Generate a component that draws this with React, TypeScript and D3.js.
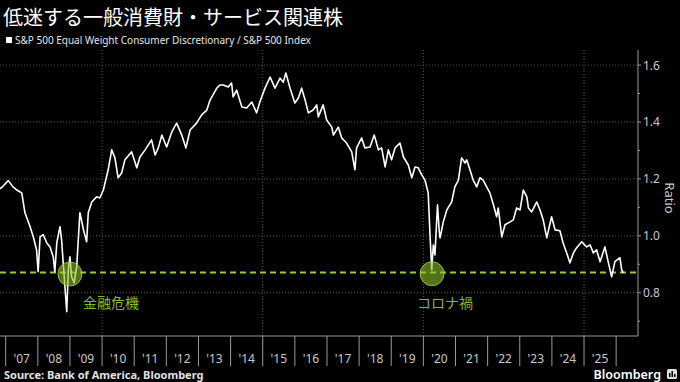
import React from 'react';
import * as d3 from 'd3';

// Decimal-year dates and the ratio S&P 500 Equal Weight Consumer Discretionary / S&P 500
const dates = [
  2006.82, 2006.92, 2007.08, 2007.23, 2007.35, 2007.45, 2007.50, 2007.60, 2007.76, 2007.86,
  2007.96, 2008.01, 2008.07, 2008.17, 2008.28, 2008.38, 2008.48, 2008.53, 2008.59, 2008.69,
  2008.74, 2008.79, 2008.90, 2008.95, 2009.00, 2009.05, 2009.13, 2009.21, 2009.31, 2009.37,
  2009.42, 2009.52, 2009.57, 2009.68, 2009.83, 2009.93, 2010.04, 2010.19, 2010.30, 2010.40,
  2010.50, 2010.61, 2010.71, 2010.92, 2011.08, 2011.18, 2011.34, 2011.54, 2011.65, 2011.75,
  2011.86, 2012.01, 2012.17, 2012.32, 2012.48, 2012.61, 2012.74, 2012.94, 2013.10, 2013.26,
  2013.36, 2013.57, 2013.67, 2013.77, 2013.93, 2014.03, 2014.08, 2014.19, 2014.35, 2014.50,
  2014.66, 2014.81, 2014.91, 2015.07, 2015.23, 2015.38, 2015.54, 2015.64, 2015.72, 2015.85,
  2016.00, 2016.11, 2016.21, 2016.32, 2016.42, 2016.57, 2016.68, 2016.73, 2016.88, 2016.99,
  2017.15, 2017.20, 2017.35, 2017.46, 2017.61, 2017.77, 2017.87, 2017.92, 2018.08, 2018.18,
  2018.34, 2018.47, 2018.60, 2018.70, 2018.81, 2018.91, 2019.01, 2019.12, 2019.27, 2019.38,
  2019.53, 2019.64, 2019.74, 2019.84, 2019.95, 2020.05, 2020.15, 2020.21, 2020.26, 2020.31,
  2020.36, 2020.44, 2020.49, 2020.52, 2020.62, 2020.73, 2020.88, 2020.98, 2021.09, 2021.19,
  2021.30, 2021.35, 2021.45, 2021.55, 2021.66, 2021.76, 2021.86, 2021.97, 2022.07, 2022.18,
  2022.28, 2022.33, 2022.44, 2022.54, 2022.70, 2022.80, 2022.90, 2023.01, 2023.11, 2023.22,
  2023.27, 2023.37, 2023.53, 2023.63, 2023.73, 2023.84, 2023.99, 2024.10, 2024.25, 2024.35,
  2024.46, 2024.56, 2024.67, 2024.77, 2024.93, 2025.08, 2025.19, 2025.29, 2025.39, 2025.50,
  2025.65, 2025.76, 2025.86, 2025.96, 2026.12, 2026.17, 2026.22,
];
const ratio = [
  1.165, 1.175, 1.194, 1.172, 1.161, 1.154, 1.151, 1.081, 1.032, 0.996,
  0.951, 0.874, 0.996, 1.004, 0.975, 0.961, 0.926, 0.874, 0.975, 1.032,
  0.986, 0.905, 0.733, 0.881, 0.926, 0.856, 0.835, 0.891, 1.081, 1.049,
  1.021, 0.979, 1.081, 1.119, 1.137, 1.133, 1.161, 1.232, 1.302, 1.274,
  1.204, 1.221, 1.267, 1.295, 1.239, 1.277, 1.302, 1.337, 1.284, 1.309,
  1.354, 1.312, 1.365, 1.396, 1.354, 1.309, 1.372, 1.396, 1.425, 1.442,
  1.477, 1.519, 1.530, 1.530, 1.523, 1.537, 1.488, 1.512, 1.453, 1.449,
  1.470, 1.432, 1.470, 1.519, 1.558, 1.519, 1.554, 1.540, 1.572, 1.519,
  1.467, 1.484, 1.519, 1.477, 1.432, 1.442, 1.460, 1.418, 1.460, 1.407,
  1.382, 1.354, 1.382, 1.344, 1.326, 1.295, 1.232, 1.309, 1.344, 1.309,
  1.312, 1.354, 1.302, 1.309, 1.242, 1.302, 1.267, 1.309, 1.326, 1.277,
  1.249, 1.204, 1.242, 1.239, 1.214, 1.196, 1.151, 0.996, 0.881, 0.968,
  0.933, 1.109, 1.021, 0.993, 1.049, 1.091, 1.119, 1.172, 1.196, 1.274,
  1.256, 1.267, 1.232, 1.196, 1.172, 1.204, 1.196, 1.172, 1.151, 1.109,
  1.067, 1.098, 0.996, 1.039, 1.049, 1.056, 1.098, 1.091, 1.161, 1.137,
  1.098, 1.084, 1.119, 1.091, 1.056, 0.993, 1.067, 1.021, 1.018, 0.975,
  0.940, 0.905, 0.940, 0.958, 0.979, 0.961, 0.968, 0.940, 0.951, 0.909,
  0.961, 0.905, 0.856, 0.909, 0.923, 0.881, 0.870,
];

const yearStarts = d3.range(2007, 2027);
const yearLabels = ["'07", "'08", "'09", "'10", "'11", "'12", "'13", "'14", "'15", "'16",
  "'17", "'18", "'19", "'20", "'21", "'22", "'23", "'24", "'25"];
const gridYears = [2010, 2015, 2020, 2025];
const yTicks = [0.8, 1.0, 1.2, 1.4, 1.6];
const yMinorTicks = [0.7, 0.9, 1.1, 1.3, 1.5];
const threshold = 0.871;
const crisisDates = [2009.0, 2020.27];
const crisisValues = [0.866, 0.867];
const crisisLabels = ['金融危機', 'コロナ禍'];

const W = 680;
const H = 382;
const plotLeft = 0;
const plotRight = 638;
const plotTop = 50;
const plotBottom = 336;

export default function App() {
  const x = d3.scaleLinear().domain([2006.823, 2026.68]).range([plotLeft, plotRight]);
  const y = d3.scaleLinear().domain([0.648, 1.653]).range([plotBottom, plotTop]);
  const points = dates.map((d, i) => [d, ratio[i]] as [number, number]);
  const line = d3.line<[number, number]>().x(d => x(d[0])).y(d => y(d[1]));
  const axisColor = '#9a9a9a';
  const textColor = '#c8c8c8';
  const green = '#9acd32';
  const sans = '"Noto Sans", "DejaVu Sans", sans-serif';
  const labelOffsets = [13, -15];

  return (
    <svg width={W} height={H} style={{ position: 'absolute', left: 0, top: 0, background: '#000' }}>
      <rect x={0} y={0} width={W} height={H} fill="#000" />
      <text x={3} y={25} fill="#fff" fontSize={20} fontFamily='"Noto Sans CJK JP", sans-serif'>
        低迷する一般消費財・サービス関連株
      </text>
      <rect x={6} y={37} width={6} height={6} fill="#fff" />
      <text x={15} y={44} fill="#e6e6e6" fontSize={10} fontFamily={sans}>
        S&amp;P 500 Equal Weight Consumer Discretionary / S&amp;P 500 Index
      </text>

      {/* grid */}
      {yTicks.map(t => (
        <line key={'gy' + t} x1={plotLeft} x2={plotRight} y1={y(t)} y2={y(t)}
          stroke="#555" strokeWidth={1} strokeDasharray="1,2" />
      ))}
      {gridYears.map(g => (
        <line key={'gx' + g} x1={x(g)} x2={x(g)} y1={plotTop} y2={plotBottom}
          stroke="#555" strokeWidth={1} strokeDasharray="1,2" />
      ))}

      {/* threshold */}
      <line x1={plotLeft} x2={plotRight} y1={y(threshold)} y2={y(threshold)}
        stroke={green} strokeWidth={2} strokeDasharray="6,4" />

      {/* series */}
      <path d={line(points) || ''} fill="none" stroke="#fff" strokeWidth={1.6} strokeLinejoin="round" />

      {/* crisis markers */}
      {crisisDates.map((d, i) => (
        <g key={'c' + i}>
          <circle cx={x(d)} cy={y(crisisValues[i])} r={12} fill="rgba(140,190,40,0.6)"
            stroke="rgba(170,215,70,0.8)" strokeWidth={1} />
          <text x={x(d) + labelOffsets[i]} y={308} fill="#86b82f" fontSize={14}
            fontFamily='"Noto Sans CJK JP", sans-serif'>{crisisLabels[i]}</text>
        </g>
      ))}

      {/* right axis */}
      <line x1={plotRight} x2={plotRight} y1={plotTop} y2={plotBottom} stroke={axisColor} strokeWidth={1} />
      {yTicks.map(t => (
        <g key={'yt' + t}>
          <line x1={plotRight} x2={plotRight + 3} y1={y(t)} y2={y(t)} stroke={axisColor} />
          <text x={plotRight + 5} y={y(t) + 4.5} fill={textColor} fontSize={12} fontFamily={sans}>
            {t.toFixed(1)}
          </text>
        </g>
      ))}
      {yMinorTicks.map(t => (
        <line key={'ym' + t} x1={plotRight} x2={plotRight + 2} y1={y(t)} y2={y(t)} stroke={axisColor} />
      ))}
      <text transform={`translate(665, ${(plotTop + plotBottom) / 2 + 5}) rotate(90)`} textAnchor="middle"
        fill={textColor} fontSize={13} fontFamily={sans}>Ratio</text>

      {/* bottom axis */}
      <line x1={plotLeft} x2={plotRight} y1={plotBottom} y2={plotBottom} stroke={axisColor} strokeWidth={1} />
      {yearStarts.map(yr => (
        <line key={'xt' + yr} x1={x(yr)} x2={x(yr)} y1={plotBottom} y2={366} stroke={axisColor} strokeWidth={1} />
      ))}
      {yearLabels.map((lab, i) => (
        <text key={'xl' + lab} x={x(2007 + i + 0.5)} y={363} textAnchor="middle" fill={textColor}
          fontSize={12} fontFamily={sans}>{lab}</text>
      ))}

      {/* footer */}
      <text x={4} y={379} fill="#e0e0e0" fontSize={11} fontWeight="bold" fontFamily={sans}>
        Source: Bank of America, Bloomberg
      </text>
      <text x={661} y={379} textAnchor="end" fill="#fff" fontSize={12.5} fontWeight={600} fontFamily={sans}>
        Bloomberg
      </text>
      <rect x={667} y={369} width={10} height={10} rx={1.5} fill="#ddd" />
      <rect x={669} y={373} width={1.5} height={4} fill="#000" />
      <rect x={671.5} y={371} width={1.5} height={6} fill="#000" />
      <rect x={674} y={374} width={1.5} height={3} fill="#000" />
    </svg>
  );
}
